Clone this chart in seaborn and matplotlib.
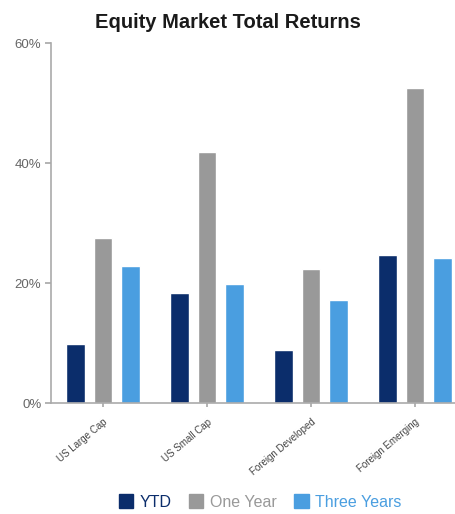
import matplotlib
matplotlib.use("Agg")
import matplotlib.pyplot as plt
import seaborn as sns
import pandas as pd
from matplotlib.patches import Patch
from matplotlib.ticker import FuncFormatter

categories = ["US Large Cap", "US Small Cap", "Foreign Developed", "Foreign Emerging"]
series = ["YTD", "One Year", "Three Years"]
ytd = [9.8, 18.3, 8.8, 24.7]
one_year = [27.5, 41.8, 22.3, 52.5]
three_years = [22.8, 19.8, 17.2, 24.2]
colors = ["#0b2d6b", "#999999", "#4a9ee0"]

rows = []
for name, vals in zip(series, [ytd, one_year, three_years]):
    for c, v in zip(categories, vals):
        rows.append({"Category": c, "Series": name, "Value": v})
df = pd.DataFrame(rows)

sns.set_theme(style="white")
plt.rcParams["font.family"] = ["Liberation Sans", "DejaVu Sans"]

fig = plt.figure(figsize=(4.56, 5.14), dpi=100)
ax = fig.add_axes([51/456, 1-403/514, (456-51)/456, 360/514])

sns.barplot(data=df, x="Category", y="Value", hue="Series", order=categories,
            hue_order=series, palette=colors, width=0.78, gap=0.3,
            saturation=1, legend=False, ax=ax)

ax.set_ylim(0, 60)
ax.set_xlim(-0.5, (456-51)/104 - 0.5)
ax.set_yticks([0, 20, 40, 60])
ax.yaxis.set_major_formatter(FuncFormatter(lambda v, p: f"{int(v)}%"))
ax.set_xlabel("")
ax.set_ylabel("")
for s in ["top", "right"]:
    ax.spines[s].set_visible(False)
for s in ["left", "bottom"]:
    ax.spines[s].set_color("#aaaaaa")
    ax.spines[s].set_linewidth(1.2)
ax.tick_params(axis="y", left=True, length=4, color="#aaaaaa", labelsize=9.5,
               labelcolor="#666666", pad=3)
ax.tick_params(axis="x", bottom=True, length=3, color="#aaaaaa", labelsize=7,
               labelcolor="#444444", pad=7)
ax.set_xticks(range(len(categories)))
ax.set_xticklabels(categories, rotation=40, ha="right", rotation_mode="anchor")

fig.text(0.5, 1-22/514, "Equity Market Total Returns", ha="center", va="center",
         fontsize=14.5, fontweight="bold", color="#1a1a1a")

handles = [Patch(facecolor=c, edgecolor=c) for c in colors]
leg = fig.legend(handles, series, loc="center", bbox_to_anchor=(260/456, 1-502/514),
                 ncol=3, frameon=False, fontsize=11.5, handlelength=0.9, handleheight=0.9,
                 handletextpad=0.4, columnspacing=1.1)
for t, c in zip(leg.get_texts(), colors):
    t.set_color(c)

fig.savefig("out.png", dpi=100)
